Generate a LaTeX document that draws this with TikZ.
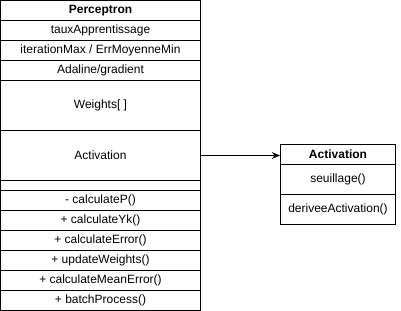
\documentclass[tikz,border=0pt]{standalone}
\usepackage{fontspec}
\setmainfont{Liberation Sans}
\usetikzlibrary{arrows.meta}

\begin{document}
\begin{tikzpicture}[x=0.75pt, y=-0.75pt, line width=0.75pt,
  every node/.style={draw, rectangle, inner sep=0pt, font=\fontsize{9}{10}\selectfont},
  prow/.style={minimum width=150pt, minimum height=15pt},
  arow/.style={minimum width=86.25pt, minimum height=22.5pt}]
\useasboundingbox (0,0) rectangle (401,311);
% class Perceptron
\node[prow, font=\fontsize{9}{10}\selectfont\bfseries] (P0) at (100.5,10.5) {Perceptron};
\node[prow] (P1) at (100.5,30.5) {tauxApprentissage};
\node[prow] (P2) at (100.5,50.5) {iterationMax / ErrMoyenneMin};
\node[prow] (P3) at (100.5,70.5) {Adaline/gradient};
\node[prow, minimum height=37.5pt] (P4) at (100.5,105.5) {Weights[ ]};
\node[prow, minimum height=37.5pt] (P5) at (100.5,155.5) {Activation};
\node[prow, minimum height=7.5pt] (P6) at (100.5,185.5) {};
\node[prow] (P7) at (100.5,200.5) {- calculateP()};
\node[prow] (P8) at (100.5,220.5) {+ calculateYk()};
\node[prow] (P9) at (100.5,240.5) {+ calculateError()};
\node[prow] (P10) at (100.5,260.5) {+ updateWeights()};
\node[prow] (P11) at (100.5,280.5) {+ calculateMeanError()};
\node[prow] (P12) at (100.5,300.5) {+ batchProcess()};
% class Activation
\node[arow, minimum height=15pt, font=\fontsize{9}{10}\selectfont\bfseries] (A0) at (338,154.5) {Activation};
\node[arow] (A1) at (338,179.5) {seuillage()};
\node[arow] (A2) at (338,209.5) {deriveeActivation()};
\draw[-{Stealth[length=6pt, width=5pt]}] (P5.east) -- (P5.east -| A0.west);
\end{tikzpicture}
\end{document}
